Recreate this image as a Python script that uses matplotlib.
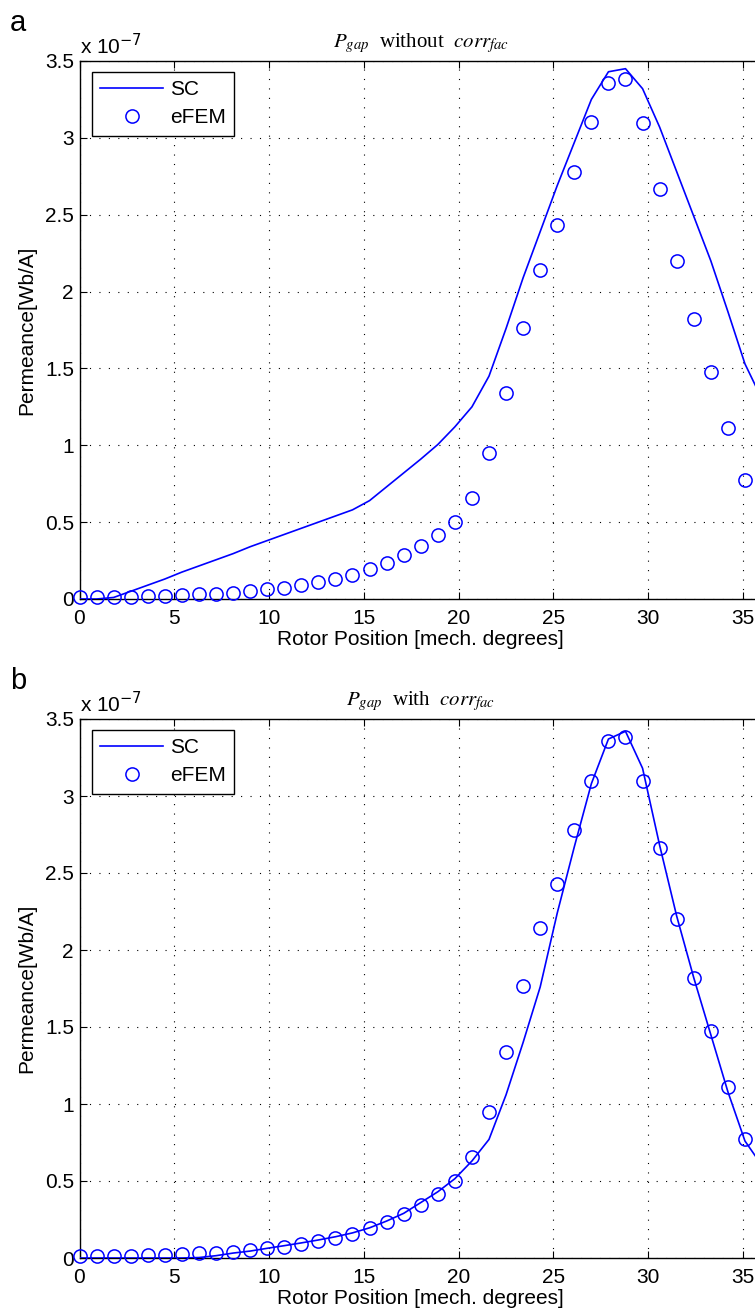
import matplotlib
matplotlib.use("Agg")
import matplotlib.pyplot as plt

plt.rcParams['font.family'] = ['Liberation Sans', 'DejaVu Sans']
plt.rcParams['mathtext.fontset'] = 'stix'

# Rotor positions (mech. degrees)
positions = [0.0, 0.9, 1.8, 2.7, 3.6, 4.5, 5.4, 6.3, 7.2, 8.1, 9.0, 9.9, 10.8, 11.7,
             12.6, 13.5, 14.4, 15.3, 16.2, 17.1, 18.0, 18.9, 19.8, 20.7, 21.6, 22.5,
             23.4, 24.3, 25.2, 26.1, 27.0, 27.9, 28.8, 29.7, 30.6, 31.5, 32.4, 33.3,
             34.2, 35.1, 36.0]

# eFEM permeance (x 1e-7 Wb/A)
efem = [0.01, 0.01, 0.01, 0.015, 0.02, 0.02, 0.025, 0.03, 0.035, 0.04, 0.05, 0.065,
        0.074, 0.089, 0.11, 0.128, 0.158, 0.193, 0.232, 0.288, 0.347, 0.414, 0.503,
        0.659, 0.948, 1.34, 1.765, 2.14, 2.43, 2.78, 3.10, 3.36, 3.385, 3.095, 2.665,
        2.20, 1.82, 1.475, 1.11, 0.772, 0.48]

# SC without correction factor (x 1e-7 Wb/A)
sc_without = [0.0, 0.0, 0.01, 0.05, 0.09, 0.13, 0.175, 0.215, 0.255, 0.295, 0.34, 0.38,
              0.42, 0.46, 0.50, 0.54, 0.58, 0.64, 0.73, 0.82, 0.91, 1.005, 1.12, 1.25,
              1.45, 1.76, 2.09, 2.39, 2.69, 2.97, 3.25, 3.43, 3.45, 3.32, 3.07, 2.78,
              2.49, 2.20, 1.87, 1.53, 1.30]

# SC with correction factor (x 1e-7 Wb/A)
sc_with = [0.0, 0.0, 0.0, 0.0, 0.0, 0.0, 0.0, 0.003, 0.015, 0.032, 0.045, 0.063, 0.08,
           0.098, 0.117, 0.138, 0.163, 0.196, 0.24, 0.29, 0.36, 0.43, 0.515, 0.63, 0.77,
           1.06, 1.40, 1.76, 2.24, 2.67, 3.08, 3.37, 3.42, 3.18, 2.68, 2.22, 1.82, 1.45,
           1.08, 0.76, 0.60]

xticks = [0, 5, 10, 15, 20, 25, 30, 35]
yticks = [0, 0.5, 1, 1.5, 2, 2.5, 3, 3.5]
yticklabels = ['0', '0.5', '1', '1.5', '2', '2.5', '3', '3.5']

W, H = 755, 1314
fig = plt.figure(figsize=(W / 100, H / 100), dpi=100)

left = 79.5 / W
width = (762 - 79.5) / W
ax_top = fig.add_axes([left, (H - 599) / H, width, (599 - 61) / H])
ax_bot = fig.add_axes([left, (H - 1258) / H, width, (1258 - 719) / H])

panels = [
    (ax_top, sc_without, r'$P_{gap}$  without  $corr_{fac}$', 'a'),
    (ax_bot, sc_with, r'$P_{gap}$  with  $corr_{fac}$', 'b'),
]

FS = 15
blue = (0, 0, 1)
for ax, sc, title, letter in panels:
    ax.plot(positions, sc, color=blue, lw=1.2, label='SC', zorder=3)
    ax.plot(positions, efem, linestyle='none', marker='o', markersize=9.5,
            markerfacecolor='none', markeredgecolor=blue, markeredgewidth=1.1,
            label='eFEM', zorder=4, clip_on=False)
    ax.set_xlim(0, 36)
    ax.set_ylim(0, 3.5)
    ax.set_xticks(xticks)
    ax.set_yticks(yticks)
    ax.set_yticklabels(yticklabels)
    ax.tick_params(direction='in', length=5, width=0.8, labelsize=FS,
                   top=True, right=True, colors='black')
    ax.tick_params(axis='x', pad=7)
    ax.tick_params(axis='y', pad=4)
    ax.grid(True, color='black', linestyle=(0, (1, 7.5)), linewidth=0.8)
    for s in ax.spines.values():
        s.set_linewidth(1.0)
    ax.set_xlabel('Rotor Position [mech. degrees]', fontsize=FS, labelpad=2)
    ax.set_ylabel('Permeance[Wb/A]', fontsize=FS, labelpad=6)
    ax.set_title(title, fontsize=15, family=['Liberation Serif', 'DejaVu Serif'], pad=10)
    ax.text(0.0, 1.006, r'x 10$^{-7}$', transform=ax.transAxes, fontsize=FS,
            ha='left', va='bottom',
            math_fontfamily='dejavusans')
    ax.text(-0.09, 1.07, letter, transform=ax.transAxes, fontsize=21,
            ha='center', va='center')
    leg = ax.legend(loc='upper left', bbox_to_anchor=(0.0185, 0.98), fontsize=FS,
                    frameon=True, fancybox=False, edgecolor='black', framealpha=1,
                    handlelength=3.0, borderpad=0.4, labelspacing=0.45,
                    handletextpad=0.35, borderaxespad=0)
    leg.get_frame().set_linewidth(1.0)

fig.savefig('out.png', dpi=100)
